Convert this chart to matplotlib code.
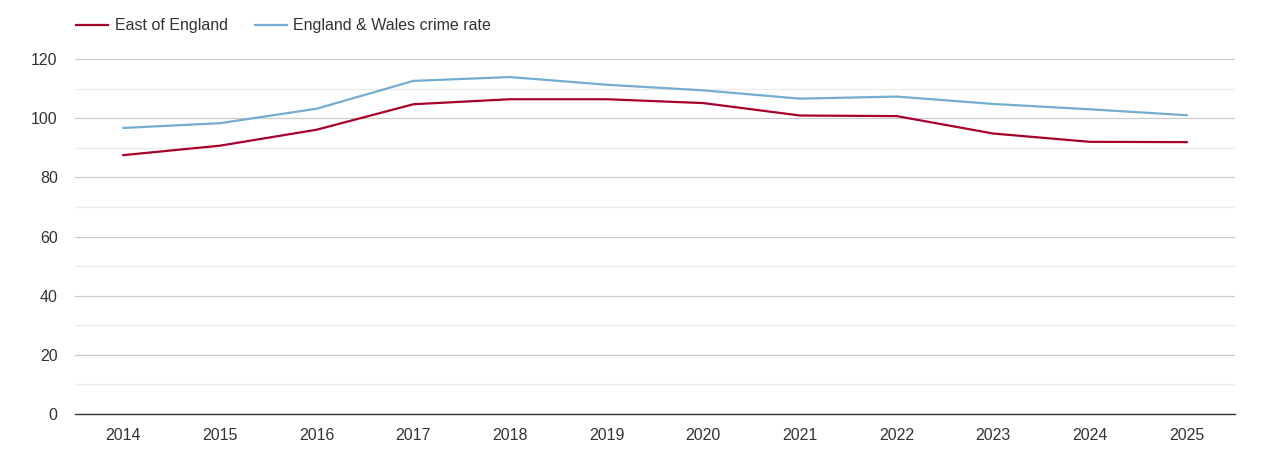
import matplotlib
matplotlib.use("Agg")
import matplotlib.pyplot as plt
from matplotlib.lines import Line2D

years = [2014, 2015, 2016, 2017, 2018, 2019, 2020, 2021, 2022, 2023, 2024, 2025]
east_of_england = [87.5, 90.7, 96.1, 104.7, 106.4, 106.4, 105.1, 100.9, 100.7, 94.8, 92.0, 91.9]
england_wales = [96.7, 98.3, 103.2, 112.6, 113.9, 111.3, 109.4, 106.6, 107.3, 104.8, 103.0, 101.0]
series_labels = ["East of England", "England & Wales crime rate"]
y_ticks = [0, 20, 40, 60, 80, 100, 120]

plt.rcParams['font.family'] = ['Liberation Sans', 'DejaVu Sans']

fig = plt.figure(figsize=(12.7, 4.5), dpi=100)
ax = fig.add_axes([75/1270, 1-414/450, (1235-75)/1270, (414-59)/450])

red = '#a8002c'
blue = '#74add1'
ax.plot(years, east_of_england, color=red, lw=1.6, zorder=3, solid_joinstyle='round')
ax.plot(years, england_wales, color=blue, lw=1.6, zorder=3, solid_joinstyle='round')

ax.set_xlim(2013.5, 2025.5)
ax.set_ylim(0, 120)
ax.set_xticks(years)
ax.set_xticklabels([str(y) for y in years])
ax.set_yticks(y_ticks)
ax.set_yticks([10, 30, 50, 70, 90, 110], minor=True)
ax.grid(True, which='major', axis='y', color='#cccccc', lw=0.9)
ax.grid(True, which='minor', axis='y', color='#ececec', lw=0.9)
ax.set_axisbelow(True)
for s in ['top', 'right', 'left']:
    ax.spines[s].set_visible(False)
ax.spines['bottom'].set_color('#333333')
ax.spines['bottom'].set_linewidth(1.0)
ax.tick_params(axis='both', which='both', length=0, labelsize=11.5, labelcolor='#333333')
ax.tick_params(axis='x', pad=10)
ax.tick_params(axis='y', pad=12.5)

handles = [Line2D([0], [0], color=red, lw=1.6), Line2D([0], [0], color=blue, lw=1.6)]
leg = fig.legend(handles, series_labels, loc='upper left', bbox_to_anchor=(62/1270, 1-4/450),
                 ncol=2, frameon=False, fontsize=11.5, handlelength=2.0, handletextpad=0.4,
                 columnspacing=1.7, labelcolor='#333333')

fig.savefig('out.png', dpi=100, facecolor='white')
